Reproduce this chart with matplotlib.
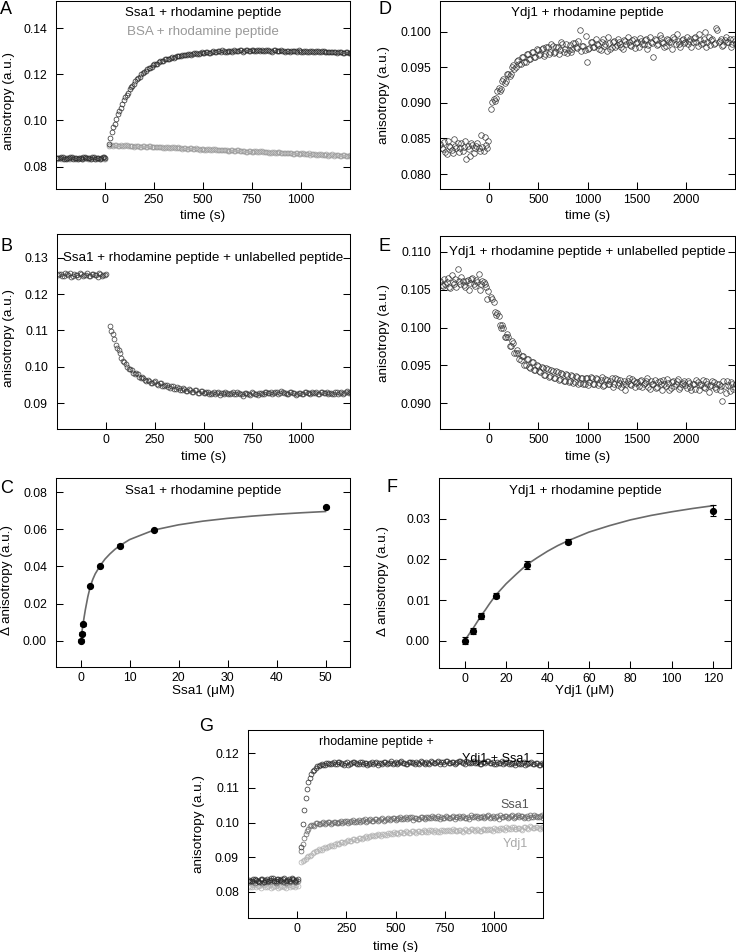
import numpy as np
import matplotlib
matplotlib.use('Agg')
import matplotlib.pyplot as plt

plt.rcParams['font.family'] = ['Liberation Sans', 'DejaVu Sans']

# anisotropy traces, values in units of 1e-4.
# A/B/G: sampled every 15 s (pre from -245 s, post from 20 s); the *_b lists sit half a step later.
# D/E: sampled every 25 s (pre from -495 s, post from 20 s); *_b lists half a step later.
a_ssa1_pre = [839, 836, 840, 835, 838, 841, 837, 834, 839, 842, 836, 838, 840, 835, 839, 837, 841]
a_ssa1_pre_b = [836, 840, 834, 838, 842, 835, 839, 837, 833, 840, 838, 835, 841, 837, 834, 840, 836]
a_ssa1_post = [899, 949, 986, 1027, 1055, 1088, 1109, 1135, 1151, 1172, 1183, 1201, 1209, 1223, 1229,
               1241, 1244, 1254, 1257, 1265, 1266, 1273, 1272, 1279, 1278, 1284, 1283, 1288, 1286, 1291,
               1290, 1294, 1292, 1296, 1293,
               1298, 1296, 1300, 1297, 1301, 1299, 1302, 1298, 1303, 1300, 1304, 1301, 1305, 1302, 1306,
               1303, 1305, 1307, 1302, 1304, 1301, 1305, 1302, 1300, 1303, 1299, 1302, 1300, 1303, 1299,
               1301, 1298, 1302, 1299, 1301, 1297, 1300, 1298, 1301, 1297, 1299, 1296, 1299, 1295, 1298,
               1294, 1296, 1292]
a_ssa1_post_b = [923, 970, 1005, 1043, 1070, 1101, 1120, 1145, 1160, 1180, 1190, 1207, 1214, 1228, 1233,
                 1245, 1247, 1257, 1259, 1267, 1267, 1275, 1274, 1281, 1279, 1285, 1283, 1289, 1287, 1292,
                 1290, 1295, 1292, 1297, 1294,
                 1302, 1298, 1301, 1304, 1299, 1303, 1300, 1305, 1301, 1304, 1299, 1306, 1302, 1305, 1301,
                 1307, 1303, 1300, 1306, 1303, 1299, 1304, 1301, 1305, 1300, 1303, 1298, 1302, 1300, 1304,
                 1299, 1301, 1297, 1302, 1298, 1300, 1296, 1301, 1297, 1299, 1295, 1298, 1294, 1297, 1293,
                 1296, 1292, 1294]
a_bsa_pre = [834, 837, 832, 836, 833, 838, 835, 831, 836, 834, 839, 833, 836, 832, 837, 835, 833]
a_bsa_pre_b = [836, 833, 838, 831, 835, 837, 832, 836, 834, 838, 831, 835, 837, 834, 831, 836, 834]
a_bsa_post = [891, 895, 892, 889, 894, 890, 893, 888, 891, 889,
              890, 886, 889, 885, 888, 884, 887, 883, 886, 882,
              884, 880, 883, 879, 882, 878, 881, 877, 880, 876,
              878, 874, 877, 873, 876, 872, 875, 871, 874, 870,
              872, 868, 871, 867, 870, 866, 869, 865, 868, 864,
              867, 863, 866, 862, 865, 861, 864, 860, 863, 859,
              861, 857, 860, 856, 859, 855, 858, 854, 857, 853,
              856, 852, 855, 851, 854, 850, 853, 849, 852, 848,
              850, 846, 849]
a_bsa_post_b = [893, 890, 894, 891, 888, 892, 889, 891, 887, 890,
                887, 889, 885, 888, 884, 887, 883, 886, 882, 885,
                881, 884, 880, 883, 879, 882, 878, 881, 877, 879,
                875, 878, 874, 877, 873, 876, 872, 874, 870, 873,
                869, 872, 868, 871, 867, 869, 865, 868, 864, 867,
                863, 866, 862, 864, 860, 863, 859, 862, 858, 861,
                857, 860, 856, 858, 854, 857, 853, 856, 852, 855,
                851, 854, 850, 852, 848, 851, 847, 850, 846, 849,
                845, 848, 847]

b_pre = [1251, 1256, 1249, 1254, 1258, 1250, 1253, 1247, 1255, 1252, 1257, 1249, 1254, 1251, 1259, 1250, 1253]
b_pre_b = [1254, 1250, 1257, 1252, 1248, 1255, 1251, 1258, 1249, 1253, 1250, 1256, 1252, 1248, 1255, 1251, 1256]
b_post = [1112, 1089, 1061, 1046, 1025, 1014, 999, 994, 984, 982, 972, 971, 963, 965, 956, 959, 952,
          955, 947, 951, 944, 947, 939, 944, 936, 941, 934, 938, 931, 936, 929, 934, 927,
          931, 926, 929, 925, 930, 927, 924, 929, 926, 930, 925, 928, 924, 929, 926, 922, 927,
          924, 929, 925, 930, 927, 932, 928, 931, 927, 932, 929, 926, 931, 928, 924, 929, 926,
          930, 927, 931, 928, 925, 930, 927, 932, 928, 925, 930, 926, 931, 928, 933, 930]
b_post_b = [1098, 1076, 1052, 1037, 1017, 1008, 995, 991, 981, 979, 970, 969, 961, 962, 956, 960, 951,
            955, 947, 950, 943, 946, 940, 943, 936, 940, 934, 937, 931, 935, 929, 933, 927,
            930, 925, 931, 927, 923, 928, 931, 926, 929, 924, 930, 926, 921, 928, 925, 930, 926,
            923, 929, 925, 931, 927, 924, 930, 926, 933, 928, 925, 930, 927, 923, 929, 926, 931,
            927, 924, 929, 932, 926, 930, 927, 924, 929, 926, 932, 928, 925, 931, 927, 929]

d_pre = [842, 835, 831, 846, 838, 829, 840, 844, 836, 833, 847, 839, 826, 841, 837, 843, 832, 838, 852, 836]
d_pre_b = [836, 845, 828, 840, 834, 849, 837, 831, 843, 838, 821, 835, 844, 830, 840, 836, 855, 833, 841, 846]
d_post = [891, 905, 907, 921, 920, 933, 930, 941, 940, 953,
          950, 960, 955, 964, 958, 968, 962, 971, 965, 974,
          968, 977, 969, 978, 971, 980, 972, 979, 974, 983,
          976, 970, 981, 975, 984, 977, 1002, 980, 974, 957,
          977, 985, 979, 983, 976, 986, 980, 973, 984, 979,
          987, 981, 985, 978, 988, 983, 986, 980, 989, 984,
          978, 987, 983, 990, 981, 986, 965, 988, 983, 991,
          984, 980, 988, 985, 992, 983, 987, 979, 990, 986,
          982, 989, 985, 993, 980, 988, 984, 1000, 986, 981,
          989, 984, 1002, 987, 980, 988, 985, 990, 983, 987]
d_post_b = [901, 903, 917, 916, 930, 928, 940, 938, 950, 948,
            959, 954, 964, 958, 969, 961, 972, 964, 975, 967,
            976, 966, 979, 968, 982, 970, 978, 969, 985, 972,
            983, 974, 971, 984, 978, 987, 973, 980, 994, 976,
            986, 978, 990, 981, 974, 989, 982, 992, 976, 985,
            979, 990, 983, 975, 987, 993, 981, 988, 977, 986,
            991, 982, 988, 976, 993, 984, 989, 981, 995, 985,
            978, 990, 986, 975, 989, 997, 982, 988, 984, 993,
            987, 978, 991, 986, 996, 983, 989, 979, 992, 988,
            983, 1005, 986, 990, 981, 992, 986, 979, 990, 984]

e_pre = [1062, 1055, 1058, 1066, 1052, 1060, 1064, 1078, 1057, 1061,
         1053, 1063, 1059, 1066, 1055, 1060, 1050, 1062, 1057, 1038]
e_pre_b = [1056, 1064, 1060, 1053, 1069, 1058, 1054, 1062, 1067, 1056,
           1061, 1050, 1064, 1058, 1063, 1071, 1057, 1060, 1053, 1048]
e_post = [1040, 1034, 1016, 1015, 1000, 999, 987, 988, 976, 979,
          966, 967, 957, 962, 951, 958, 947, 954, 944, 949,
          941, 947, 938, 945, 936, 943, 934, 941, 932, 939,
          930, 938, 929, 936, 928, 935, 927, 934, 926, 933,
          928, 934, 925, 932, 927, 935, 924, 931, 926, 933,
          925, 932, 927, 921, 930, 926, 933, 924, 930, 927,
          923, 931, 925, 929, 922, 930, 926, 920, 928, 925,
          931, 923, 927, 920, 929, 925, 932, 921, 927, 924,
          930, 922, 926, 919, 928, 924, 931, 920, 926, 923,
          929, 921, 925, 918, 903, 923, 930, 916, 925, 922]
e_post_b = [1038, 1021, 1019, 1003, 1004, 988, 991, 976, 982, 966,
            971, 958, 963, 951, 959, 948, 955, 944, 951, 942,
            948, 937, 946, 935, 944, 933, 942, 931, 940, 930,
            939, 928, 937, 927, 936, 926, 934, 925, 933, 924,
            935, 926, 933, 924, 931, 923, 932, 925, 930, 922,
            933, 924, 931, 926, 918, 929, 925, 932, 922, 928,
            930, 921, 927, 933, 919, 926, 931, 922, 929, 917,
            926, 932, 918, 928, 923, 930, 919, 926, 929, 920,
            927, 918, 925, 931, 917, 926, 922, 929, 915, 924,
            928, 919, 926, 923, 930, 914, 924, 928, 919, 925]

g_both_pre = [835, 831, 838, 833, 836, 830, 837, 834, 839, 832, 836, 833, 840, 835, 831, 837, 834]
g_both_pre_b = [832, 837, 834, 830, 838, 835, 831, 839, 833, 836, 834, 838, 832, 836, 839, 833, 836]
g_both_post = [930, 1035, 1098, 1130, 1148, 1158, 1163, 1169, 1166, 1172,
               1168, 1174, 1170, 1175, 1169, 1173, 1167, 1172, 1176, 1170,
               1174, 1168, 1173, 1169, 1175, 1171, 1166, 1172, 1176, 1170,
               1173, 1168, 1174, 1171, 1177, 1172, 1169, 1175, 1171, 1176,
               1170, 1174, 1168, 1173, 1177, 1171, 1175, 1169, 1174, 1178,
               1172, 1176, 1170, 1174, 1179, 1173, 1177, 1171, 1175, 1172,
               1176, 1170, 1174, 1178, 1172, 1175, 1169, 1173, 1177, 1171,
               1174, 1168, 1172, 1175, 1169, 1173, 1167, 1171, 1174, 1168,
               1172, 1166, 1170]
g_both_post_b = [995, 1072, 1116, 1141, 1153, 1162, 1167, 1165, 1171, 1168,
                 1173, 1169, 1175, 1171, 1167, 1174, 1170, 1176, 1172, 1168,
                 1175, 1171, 1167, 1173, 1170, 1176, 1172, 1168, 1174, 1171,
                 1177, 1173, 1169, 1175, 1172, 1168, 1174, 1176, 1170, 1173,
                 1177, 1172, 1175, 1169, 1176, 1173, 1179, 1174, 1170, 1177,
                 1173, 1175, 1171, 1177, 1174, 1170, 1176, 1172, 1178, 1173,
                 1170, 1175, 1171, 1177, 1172, 1168, 1175, 1171, 1169, 1174,
                 1170, 1173, 1167, 1172, 1169, 1174, 1168, 1172, 1169, 1173,
                 1167, 1171, 1168]
g_ssa1_pre = [829, 833, 827, 831, 835, 828, 832, 830, 834, 827, 831, 836, 829, 833, 830, 834, 828]
g_ssa1_pre_b = [832, 828, 834, 830, 826, 833, 829, 835, 831, 828, 834, 830, 827, 832, 836, 829, 831]
g_ssa1_post = [917, 955, 976, 989, 992, 998, 995, 1000, 997, 1001,
               996, 1002, 998, 1003, 999, 1004, 1000, 1005, 1001, 1006,
               1002, 1007, 1003, 1008, 1004, 1009, 1005, 1010, 1006, 1011,
               1007, 1012, 1008, 1013, 1009, 1014, 1010, 1015, 1008, 1013,
               1010, 1015, 1011, 1016, 1012, 1017, 1013, 1009, 1014, 1018,
               1012, 1016, 1011, 1017, 1013, 1018, 1014, 1010, 1015, 1019,
               1013, 1017, 1012, 1018, 1014, 1019, 1015, 1011, 1016, 1020,
               1014, 1018, 1013, 1019, 1015, 1020, 1016, 1012, 1017, 1021,
               1015, 1019, 1014]
g_ssa1_post_b = [938, 968, 983, 993, 991, 999, 996, 1001, 998, 1002,
                 999, 1003, 1000, 1004, 1001, 1006, 1002, 1007, 1003, 1008,
                 1004, 1009, 1005, 1010, 1006, 1011, 1007, 1012, 1008, 1013,
                 1009, 1014, 1010, 1015, 1011, 1016, 1012, 1017, 1013, 1011,
                 1016, 1012, 1017, 1013, 1018, 1014, 1019, 1015, 1012, 1017,
                 1014, 1019, 1015, 1020, 1016, 1012, 1017, 1021, 1015, 1018,
                 1015, 1020, 1016, 1021, 1017, 1013, 1018, 1022, 1016, 1019,
                 1016, 1021, 1017, 1022, 1018, 1014, 1019, 1023, 1017, 1020,
                 1017, 1021, 1018]
g_ydj1_pre = [818, 814, 820, 816, 812, 819, 815, 821, 813, 817, 811, 818, 815, 820, 813, 816, 819]
g_ydj1_pre_b = [815, 819, 813, 817, 821, 814, 818, 812, 816, 820, 814, 817, 812, 819, 816, 813, 817]
g_ydj1_post = [886, 893, 901, 905, 913, 917, 924, 922, 930, 929,
               936, 934, 941, 939, 945, 943, 950, 947, 954, 951,
               957, 955, 961, 958, 964, 960, 966, 962, 968, 964,
               970, 966, 971, 968, 973, 969, 974, 970, 975, 971,
               976, 972, 977, 973, 978, 974, 977, 973, 978, 975,
               979, 975, 980, 976, 978, 974, 979, 976, 981, 977,
               980, 976, 982, 978, 981, 977, 983, 979, 984, 980,
               985, 981, 986, 982, 984, 980, 986, 983, 988, 984,
               987, 983, 986]
g_ydj1_post_b = [890, 896, 903, 908, 915, 919, 921, 926, 928, 933,
                 932, 938, 937, 943, 942, 948, 946, 952, 950, 956,
                 954, 959, 957, 962, 960, 965, 963, 967, 965, 969,
                 967, 972, 969, 974, 970, 975, 971, 976, 972, 977,
                 973, 978, 974, 979, 975, 978, 974, 979, 976, 980,
                 976, 981, 977, 980, 976, 981, 977, 982, 978, 981,
                 977, 983, 979, 982, 978, 984, 980, 985, 981, 986,
                 982, 987, 983, 985, 981, 987, 984, 989, 985, 988,
                 984, 987, 985]

# titrations
c_conc = [0, 0.25, 0.5, 2, 4, 8, 15, 50]
c_delta = [0.0000, 0.0037, 0.0088, 0.0295, 0.0403, 0.0513, 0.0596, 0.0721]
c_err = [0.0007, 0.0008, 0.0008, 0.0007, 0.0007, 0.0006, 0.0006, 0.0007]
c_fit_x = [0.25, 0.5, 0.75, 1, 1.5, 2, 2.5, 3, 4, 5, 6, 7, 8, 10, 12, 15, 20, 25, 30, 35, 40, 45, 50]
c_fit_y = [0.0040, 0.0085, 0.0128, 0.0168, 0.0237, 0.0292, 0.0330, 0.0360, 0.0404, 0.0440, 0.0468,
           0.0492, 0.0512, 0.0545, 0.0566, 0.0597, 0.0625, 0.0645, 0.0660, 0.0672, 0.0682, 0.0690, 0.0697]

f_conc = [0, 4, 8, 15, 30, 50, 120]
f_delta = [0.0000, 0.0024, 0.0061, 0.0111, 0.0186, 0.0243, 0.0320]
f_err = [0.0008, 0.0008, 0.0008, 0.0007, 0.0009, 0.0006, 0.0013]
f_fit_x = [1, 4, 8, 10, 12, 15, 20, 25, 30, 35, 40, 45, 50, 60, 70, 80, 90, 100, 110, 120]
f_fit_y = [0.0008, 0.0030, 0.0062, 0.0076, 0.0091, 0.0112, 0.0140, 0.0164, 0.0187, 0.0204, 0.0220,
           0.0234, 0.0246, 0.0267, 0.0283, 0.0297, 0.0308, 0.0317, 0.0325, 0.0332]

W, H = 736, 952
fig = plt.figure(figsize=(W / 100, H / 100), dpi=100)


def px_axes(l, t, r, b):
    return fig.add_axes([l / W, 1 - b / H, (r - l) / W, (b - t) / H])


def trace(ax, pre, post, pre_b, post_b, pre0, dt, color, ms=3.5):
    parts_t, parts_y = [], []
    for vals, t0 in ((pre, pre0), (pre_b, pre0 + dt / 2), (post, 20), (post_b, 20 + dt / 2)):
        parts_t.append(t0 + dt * np.arange(len(vals)))
        parts_y.append(np.asarray(vals) * 1e-4)
    ax.plot(np.concatenate(parts_t), np.concatenate(parts_y), 'o', mfc='none', mec=color,
            ms=ms, mew=0.5, ls='none')


def style(ax, xlim, ylim, xticks, yticks, yfmt, xlabel, ylabel, ylab_x, ylab_y, xlab_y):
    ax.set_xlim(*xlim)
    ax.set_ylim(*ylim)
    ax.set_xticks(xticks)
    ax.set_yticks(yticks)
    ax.set_yticklabels([yfmt % v for v in yticks])
    ax.tick_params(direction='in', length=5, width=0.75, right=True, top=False, labelsize=8.8)
    ax.tick_params(axis='y', pad=6.5)
    ax.tick_params(axis='x', pad=3.5)
    for s in ax.spines.values():
        s.set_linewidth(0.75)
    ax.set_xlabel(xlabel, fontsize=9.7)
    ax.set_ylabel(ylabel, fontsize=9.7)
    ax.yaxis.set_label_coords(ylab_x, ylab_y)
    ax.xaxis.set_label_coords(0.5, xlab_y)


def letter(x, y, s):
    fig.text(x / W, 1 - y / H, s, fontsize=13, va='top', ha='left')


# A
ax = px_axes(56, 1, 350, 189)
trace(ax, a_bsa_pre, a_bsa_post, a_bsa_pre_b, a_bsa_post_b, -245, 15, '#9a9a9a')
trace(ax, a_ssa1_pre, a_ssa1_post, a_ssa1_pre_b, a_ssa1_post_b, -245, 15, '#2a2a2a')
style(ax, (-250, 1250), (0.0703, 0.1518), [0, 250, 500, 750, 1000], [0.08, 0.10, 0.12, 0.14], '%.2f',
      'time (s)', 'anisotropy (a.u.)', -0.14, 0.47, -0.11)
ax.text(0.5, 0.935, 'Ssa1 + rhodamine peptide', transform=ax.transAxes, ha='center', va='center', fontsize=9.6)
ax.text(0.5, 0.837, 'BSA + rhodamine peptide', transform=ax.transAxes, ha='center', va='center',
        fontsize=9.6, color='#999999')
letter(0, 1, 'A')

# D
ax = px_axes(440, 1, 735, 189)
trace(ax, d_pre, d_post, d_pre_b, d_post_b, -495, 25, '#3a3a3a', ms=4.0)
style(ax, (-500, 2500), (0.0779, 0.1043), [0, 500, 1000, 1500, 2000],
      [0.080, 0.085, 0.090, 0.095, 0.100], '%.3f', 'time (s)', 'anisotropy (a.u.)', -0.17, 0.5, -0.11)
ax.text(0.5, 0.935, 'Ydj1 + rhodamine peptide', transform=ax.transAxes, ha='center', va='center', fontsize=9.6)
letter(379, 1, 'D')

# B
ax = px_axes(57, 234, 350, 429)
trace(ax, b_pre, b_post, b_pre_b, b_post_b, -245, 15, '#3a3a3a')
style(ax, (-250, 1250), (0.0829, 0.1365), [0, 250, 500, 750, 1000], [0.09, 0.10, 0.11, 0.12, 0.13], '%.2f',
      'time (s)', 'anisotropy (a.u.)', -0.143, 0.467, -0.113)
ax.text(0.5, 0.13, 'Ssa1 + rhodamine peptide + unlabelled peptide', transform=ax.get_yaxis_transform(),
        ha='center', va='center', fontsize=9.6)
letter(1, 238, 'B')

# E
ax = px_axes(440, 236, 735, 429)
trace(ax, e_pre, e_post, e_pre_b, e_post_b, -495, 25, '#3a3a3a', ms=4.0)
style(ax, (-500, 2500), (0.0866, 0.1121), [0, 500, 1000, 1500, 2000],
      [0.090, 0.095, 0.100, 0.105, 0.110], '%.3f', 'time (s)', 'anisotropy (a.u.)', -0.17, 0.5, -0.113)
ax.text(0.5, 0.110, 'Ydj1 + rhodamine peptide + unlabelled peptide', transform=ax.get_yaxis_transform(),
        ha='center', va='center', fontsize=9.6)
letter(379, 238, 'E')

# C
ax = px_axes(56, 478, 350, 667)
ax.plot(c_fit_x, c_fit_y, color='#6a6a6a', lw=1.2)
ax.errorbar(c_conc, c_delta, yerr=c_err, fmt='o', color='black', ms=4.2, capsize=2, elinewidth=0.8, capthick=0.8)
style(ax, (-5, 55), (-0.0143, 0.0878), [0, 10, 20, 30, 40, 50], [0.00, 0.02, 0.04, 0.06, 0.08], '%.2f',
      'Ssa1 (\u03bcM)', '\u0394 anisotropy (a.u.)', -0.146, 0.46, -0.095)
ax.text(0.5, 0.929, 'Ssa1 + rhodamine peptide', transform=ax.transAxes, ha='center', va='center', fontsize=9.6)
letter(0, 480, 'C')

# F
ax = px_axes(439, 478, 731, 668)
ax.plot(f_fit_x, f_fit_y, color='#6a6a6a', lw=1.2)
ax.errorbar(f_conc, f_delta, yerr=f_err, fmt='o', color='black', ms=4.2, capsize=2, elinewidth=0.8, capthick=0.8)
style(ax, (-12.4, 128.6), (-0.0067, 0.0400), [0, 20, 40, 60, 80, 100, 120], [0.00, 0.01, 0.02, 0.03], '%.2f',
      'Ydj1 (\u03bcM)', '\u0394 anisotropy (a.u.)', -0.171, 0.46, -0.089)
ax.text(0.5, 0.929, 'Ydj1 + rhodamine peptide', transform=ax.transAxes, ha='center', va='center', fontsize=9.6)
letter(387, 479, 'F')

# G
ax = px_axes(248, 730, 543, 918)
trace(ax, g_ydj1_pre, g_ydj1_post, g_ydj1_pre_b, g_ydj1_post_b, -245, 15, '#b0b0b0')
trace(ax, g_ssa1_pre, g_ssa1_post, g_ssa1_pre_b, g_ssa1_post_b, -245, 15, '#666666')
trace(ax, g_both_pre, g_both_post, g_both_pre_b, g_both_post_b, -245, 15, '#2a2a2a')
style(ax, (-250, 1250), (0.0725, 0.1267), [0, 250, 500, 750, 1000], [0.08, 0.09, 0.10, 0.11, 0.12], '%.2f',
      'time (s)', 'anisotropy (a.u.)', -0.146, 0.5, -0.122)
ax.text(0.436, 0.936, 'rhodamine peptide +', transform=ax.transAxes, ha='center', va='center', fontsize=9)
ax.text(0.843, 0.846, 'Ydj1 + Ssa1', transform=ax.transAxes, ha='center', va='center', fontsize=9)
ax.text(0.905, 0.60, 'Ssa1', transform=ax.transAxes, ha='center', va='center', fontsize=9, color='#555555')
ax.text(0.907, 0.394, 'Ydj1', transform=ax.transAxes, ha='center', va='center', fontsize=9, color='#a8a8a8')
letter(199, 718, 'G')

fig.savefig('out.png', dpi=100)
